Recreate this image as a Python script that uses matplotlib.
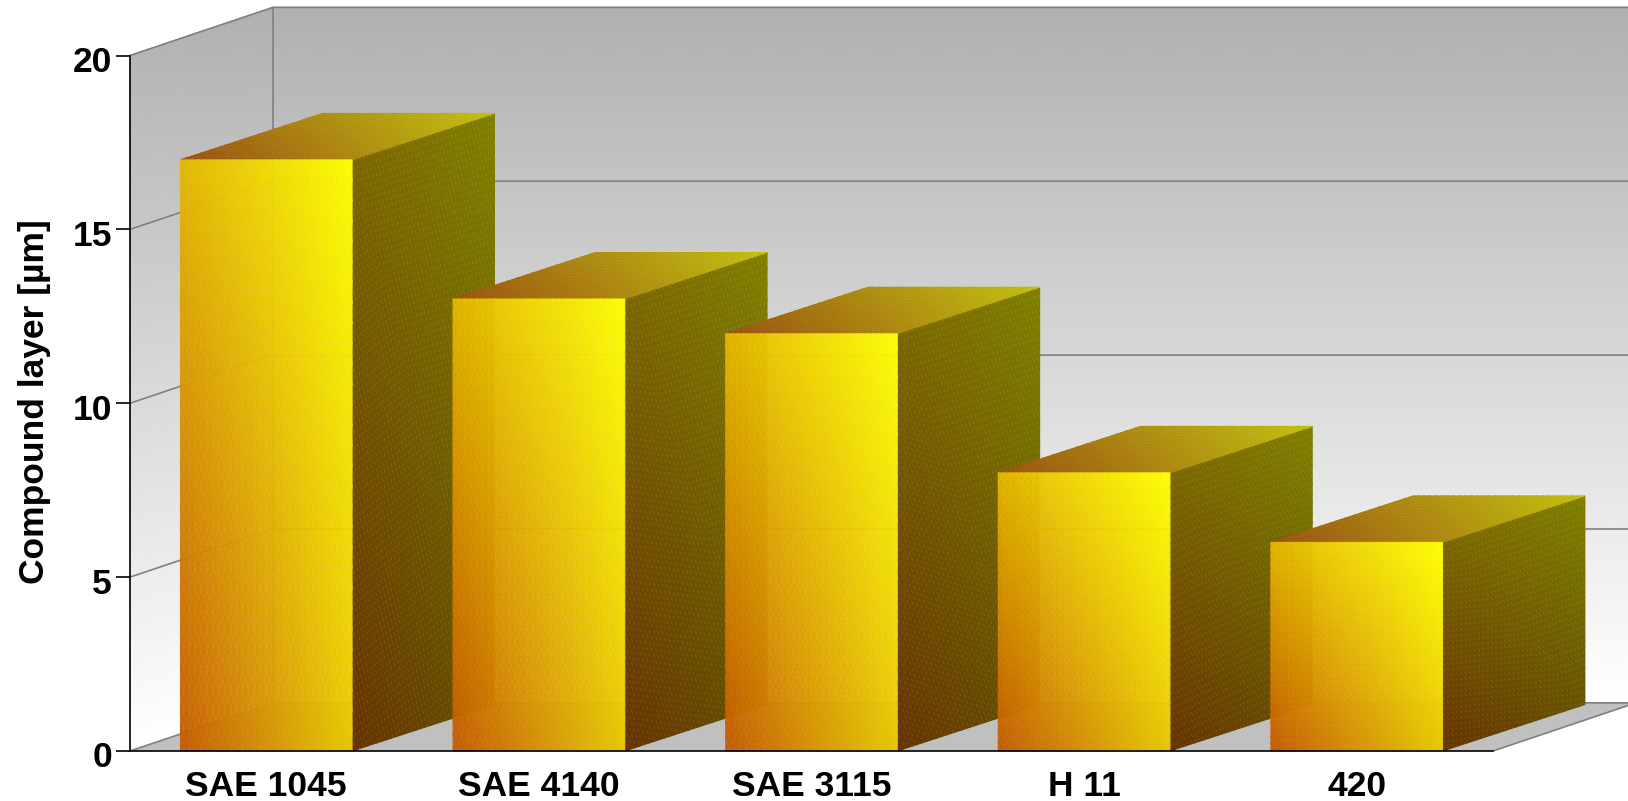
import numpy as np
import matplotlib
matplotlib.use("Agg")
import matplotlib.pyplot as plt
from matplotlib.colors import to_rgb
from matplotlib.collections import LineCollection
from matplotlib.transforms import ScaledTranslation

# Chart content
categories = ["SAE 1045", "SAE 4140", "SAE 3115", "H 11", "420"]
thickness_um = [17, 13, 12, 8, 6]
y_ticks = [0, 5, 10, 15, 20]
y_label = "Compound layer [µm]"

# Oblique projection of the depth axis, in data units
DEPTH_X = 0.5246
DEPTH_Y = 1.385
BAR_DEPTH_X = 0.522
BAR_DEPTH_Y = 1.335
BAR_WIDTH = 0.63
Y_MAX = 20

W, H = 1628, 801
fig = plt.figure(figsize=(W / 100, H / 100), dpi=100, facecolor="white")
ax = fig.add_axes([130 / W, 1 - 751 / H, (1493 - 130) / W, (751 - 55.5) / H])
ax.set_xlim(0, len(categories))
ax.set_ylim(0, Y_MAX)
ax.patch.set_visible(False)


def quad_point(corners, u, v):
    """Bilinear position inside a quad given as (bl, br, tl, tr)."""
    bl, br, tl, tr = [np.asarray(c, float) for c in corners]
    u, v = np.asarray(u)[..., None], np.asarray(v)[..., None]
    return (1 - v) * ((1 - u) * bl + u * br) + v * ((1 - u) * tl + u * tr)


def shaded_quad(corners, colors, alpha=1.0, zorder=2, n=30):
    """Fill a quad with colours blended between its four corners."""
    s = np.linspace(0, 1, n)
    u, v = np.meshgrid(s, s)
    pts = quad_point(corners, u, v)
    rgb = quad_point([to_rgb(c) for c in colors], u, v)
    rgba = np.dstack([rgb, np.full(u.shape, alpha)])
    return ax.pcolormesh(pts[..., 0], pts[..., 1], rgba, shading="gouraud",
                         zorder=zorder, clip_on=False)


def strip_seams(corners, zorder, rising=False, count=38, alpha=0.12):
    """Faint dashed seams between the colour strips of a shaded face."""
    segs = []
    for c in np.linspace(0, 2, 2 * count + 1)[1:-1]:
        a, b = max(0, c - 1), min(1, c)
        u = np.array([a, b])
        v = c - u
        if rising:
            v = 1 - v
        segs.append(quad_point(corners, u, v))
    ax.add_collection(LineCollection(segs, colors="white", linewidths=0.6, alpha=alpha,
                                     linestyles=[(0, (4, 4))], zorder=zorder, clip_on=False),
                      autolim=False)


def wall_grey(y):
    """Backdrop grey as a function of data height, white at the floor line."""
    t = np.clip((y - DEPTH_Y) / Y_MAX, 0, 1)
    g = 1.0 - t * (1.0 - 0.69)
    return (g, g, g)


nx = len(categories)
top_back = Y_MAX + DEPTH_Y

# Back wall runs past the right edge of the figure
shaded_quad([(DEPTH_X, DEPTH_Y), (nx + DEPTH_X, DEPTH_Y), (DEPTH_X, top_back), (nx + DEPTH_X, top_back)],
            [wall_grey(DEPTH_Y), wall_grey(DEPTH_Y), wall_grey(top_back), wall_grey(top_back)], zorder=1)
# Left wall
shaded_quad([(0, 0), (DEPTH_X, DEPTH_Y), (0, Y_MAX), (DEPTH_X, top_back)],
            [wall_grey(0), wall_grey(DEPTH_Y), wall_grey(Y_MAX), wall_grey(top_back)], zorder=1)
# Floor
ax.fill([0, nx, nx + DEPTH_X, DEPTH_X], [0, 0, DEPTH_Y, DEPTH_Y], color="#c0c0c0", lw=0, zorder=1.1, clip_on=False)

# Grid and frame of the 3D box
GRID = "#808080"
line_kw = dict(color=GRID, lw=1.2, zorder=1.5, clip_on=False, solid_capstyle="butt")
for yt in y_ticks[1:]:
    ax.plot([0, DEPTH_X, nx + DEPTH_X], [yt, yt + DEPTH_Y, yt + DEPTH_Y], **line_kw)
ax.plot([DEPTH_X, DEPTH_X], [DEPTH_Y, top_back], **line_kw)
ax.plot([0, DEPTH_X, nx + DEPTH_X], [0, DEPTH_Y, DEPTH_Y], **line_kw)
ax.plot([nx, nx + DEPTH_X], [0, DEPTH_Y], **line_kw)

# Bars, left to right so nearer faces overlap correctly
for i, val in enumerate(thickness_um):
    x0 = i + 0.5 - BAR_WIDTH / 2
    x1 = i + 0.5 + BAR_WIDTH / 2
    z = 2 + i
    side = [(x1, 0), (x1 + BAR_DEPTH_X, BAR_DEPTH_Y), (x1, val), (x1 + BAR_DEPTH_X, val + BAR_DEPTH_Y)]
    top = [(x0, val), (x1, val), (x0 + BAR_DEPTH_X, val + BAR_DEPTH_Y), (x1 + BAR_DEPTH_X, val + BAR_DEPTH_Y)]
    front = [(x0, 0), (x1, 0), (x0, val), (x1, val)]

    shaded_quad(side, ["#663300", "#665500", "#7a6600", "#808000"], zorder=z + 0.1)
    strip_seams(side, z + 0.15)
    shaded_quad(top, ["#944600", "#a88000", "#a88800", "#c0bc00"], zorder=z + 0.2)
    strip_seams(top, z + 0.25, rising=True)
    shaded_quad(front, ["#c45a00", "#e8c800", "#e4b800", "#ffff00"], alpha=0.92, zorder=z + 0.3)
    strip_seams(front, z + 0.35, alpha=0.07)

# Axes, ticks, labels
for edge in ("top", "right"):
    ax.spines[edge].set_visible(False)
for edge in ("left", "bottom"):
    ax.spines[edge].set_linewidth(1.2)
    ax.spines[edge].set_zorder(20)

font = dict(family="Liberation Sans", fontweight="bold", fontsize=25.5)
ax.set_yticks(y_ticks)
ax.set_yticklabels([str(v) for v in y_ticks], **font)
ax.set_xticks(np.arange(nx) + 0.5)
ax.set_xticklabels(categories, **font)
ax.tick_params(axis="y", length=10, width=1.2, pad=3)
ax.tick_params(axis="x", length=0, pad=14)
nudge_down = ScaledTranslation(0, -2.5 / 72, fig.dpi_scale_trans)
for lab in ax.get_yticklabels():
    lab.set_transform(lab.get_transform() + nudge_down)
ax.text(35 / W, 1 - 402 / H, y_label, transform=fig.transFigure, rotation=90,
        ha="center", va="center", **font)

fig.savefig("out.png", dpi=100)
